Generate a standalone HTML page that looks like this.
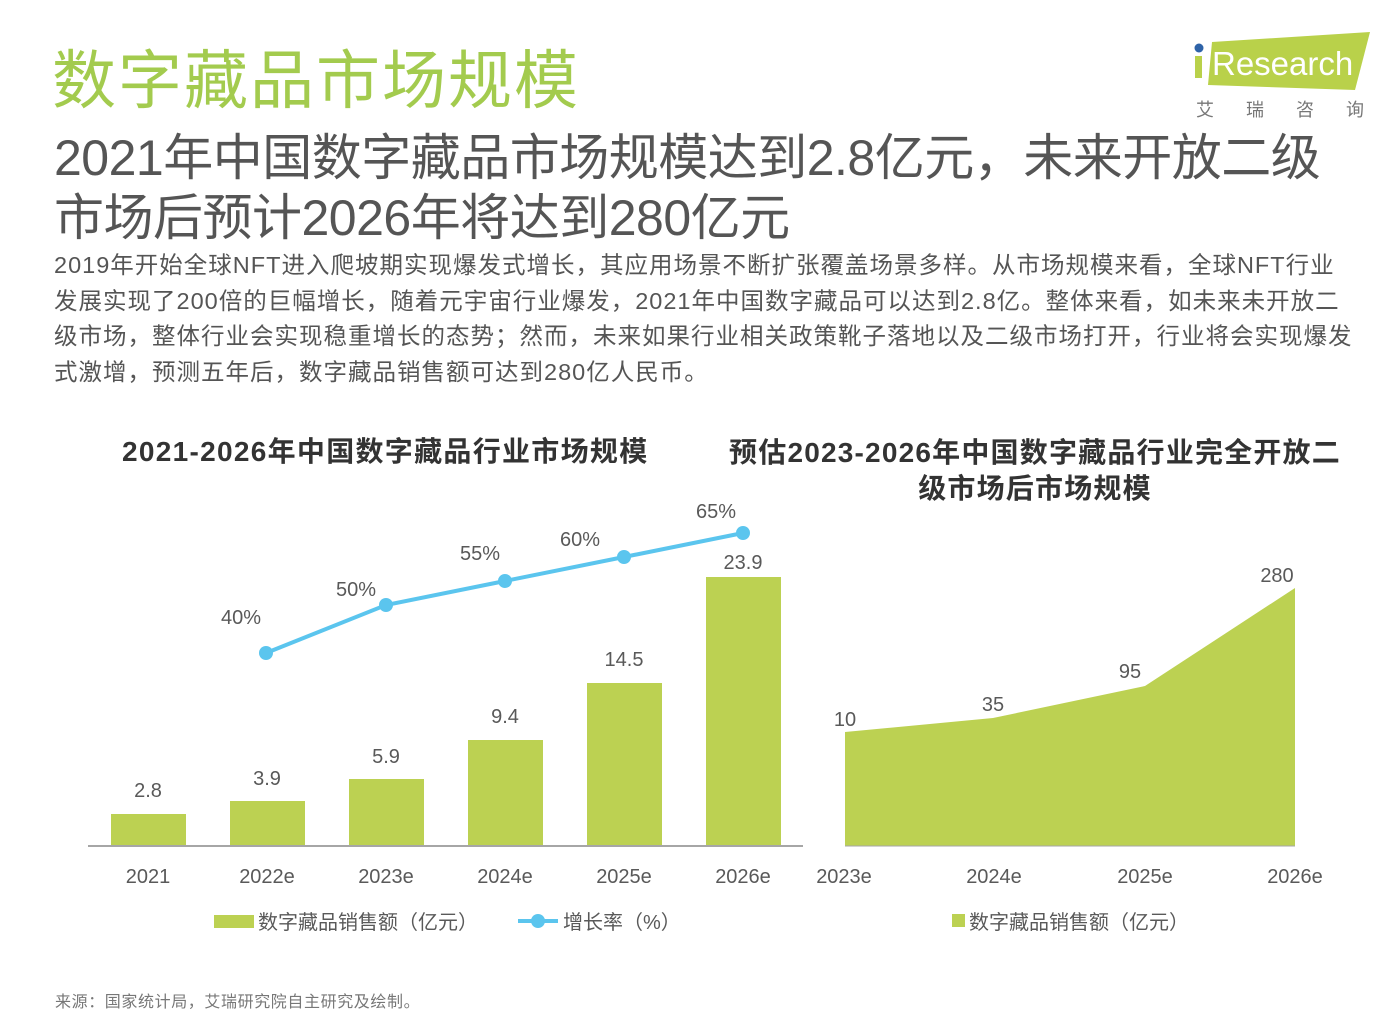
<!DOCTYPE html>
<html><head><meta charset="utf-8"><style>
body{margin:0;width:1392px;height:1012px;background:#fff;position:relative;overflow:hidden;font-family:"Liberation Sans","Noto Sans CJK SC",sans-serif;color:#595959}
.a{position:absolute;white-space:nowrap}
</style></head><body>
<div class="a" style="left:52px;top:30px;font-size:64px;color:#a3cb4e;letter-spacing:2px">数字藏品市场规模</div>
<div class="a" style="left:54px;top:128px;font-size:50px;color:#555;line-height:60px;letter-spacing:-0.5px">2021年中国数字藏品市场规模达到2.8亿元，未来开放二级<br>市场后预计2026年将达到280亿元</div>
<div class="a" style="left:54px;top:248px;font-size:23.5px;color:#555;line-height:35.5px;letter-spacing:1px">2019年开始全球NFT进入爬坡期实现爆发式增长，其应用场景不断扩张覆盖场景多样。从市场规模来看，全球NFT行业<br>发展实现了200倍的巨幅增长，随着元宇宙行业爆发，2021年中国数字藏品可以达到2.8亿。整体来看，如未来未开放二<br>级市场，整体行业会实现稳重增长的态势；然而，未来如果行业相关政策靴子落地以及二级市场打开，行业将会实现爆发<br>式激增，预测五年后，数字藏品销售额可达到280亿人民币。</div>
<svg class="a" style="left:1190px;top:30px" width="185" height="65"><polygon points="22,12 180,2 165,60 18,55" fill="#b9d14a"/><circle cx="9" cy="18" r="4.5" fill="#2e63a8"/><rect x="5" y="26" width="7" height="22" fill="#b9d14a"/><text x="22" y="45" font-size="33" fill="#fff" font-family="Liberation Sans">Research</text></svg>
<div class="a" style="left:1196px;top:96px;font-size:18px;color:#777;letter-spacing:32px">艾瑞咨询</div>
<div class="a" style="left:122px;top:430px;font-size:28px;font-weight:bold;color:#333;letter-spacing:1.3px">2021-2026年中国数字藏品行业市场规模</div>
<div class="a" style="left:700px;top:435px;width:670px;text-align:center;font-size:28px;font-weight:bold;color:#333;line-height:36px;letter-spacing:1.2px">预估2023-2026年中国数字藏品行业完全开放二<br>级市场后市场规模</div>
<svg class="a" style="left:0;top:0" width="1392" height="1012" font-family="Liberation Sans" font-size="20" fill="#595959" text-anchor="middle">
<g fill="#bcd152"><rect x="111" y="814" width="75" height="31"/><rect x="230" y="801" width="75" height="44"/><rect x="349" y="779" width="75" height="66"/><rect x="468" y="740" width="75" height="105"/><rect x="587" y="683" width="75" height="162"/><rect x="706" y="577" width="75" height="268"/></g>
<line x1="88" y1="846" x2="803" y2="846" stroke="#a6a6a6" stroke-width="2"/>
<polyline points="266,653 386,605 505,581 624,557 743,533" fill="none" stroke="#5bc5ee" stroke-width="4"/>
<g fill="#5bc5ee"><circle cx="266" cy="653" r="7"/><circle cx="386" cy="605" r="7"/><circle cx="505" cy="581" r="7"/><circle cx="624" cy="557" r="7"/><circle cx="743" cy="533" r="7"/></g>
<text x="148" y="797">2.8</text><text x="267" y="785">3.9</text><text x="386" y="763">5.9</text><text x="505" y="723">9.4</text><text x="624" y="666">14.5</text><text x="743" y="569">23.9</text>
<text x="241" y="624">40%</text><text x="356" y="596">50%</text><text x="480" y="560">55%</text><text x="580" y="546">60%</text><text x="716" y="518">65%</text>
<text x="148" y="883">2021</text><text x="267" y="883">2022e</text><text x="386" y="883">2023e</text><text x="505" y="883">2024e</text><text x="624" y="883">2025e</text><text x="743" y="883">2026e</text>
<polygon points="845,732 993,718 1145,686 1295,588 1295,846 845,846" fill="#bcd152"/>
<line x1="845" y1="846" x2="1295" y2="846" stroke="#a6a6a6" stroke-width="1"/>
<text x="845" y="726">10</text><text x="993" y="711">35</text><text x="1130" y="678">95</text><text x="1277" y="582">280</text>
<text x="844" y="883">2023e</text><text x="994" y="883">2024e</text><text x="1145" y="883">2025e</text><text x="1295" y="883">2026e</text>
<rect x="214" y="915" width="40" height="13" fill="#bcd152"/>
<text x="258" y="929" text-anchor="start">数字藏品销售额（亿元）</text>
<line x1="518" y1="921" x2="558" y2="921" stroke="#5bc5ee" stroke-width="4"/><circle cx="538" cy="921" r="7" fill="#5bc5ee"/>
<text x="563" y="929" text-anchor="start">增长率（%）</text>
<rect x="952" y="914" width="13" height="13" fill="#bcd152"/>
<text x="969" y="929" text-anchor="start">数字藏品销售额（亿元）</text>
</svg>
<div class="a" style="left:55px;top:988px;font-size:16px;color:#777;letter-spacing:0.6px">来源：国家统计局，艾瑞研究院自主研究及绘制。</div>
</body></html>
